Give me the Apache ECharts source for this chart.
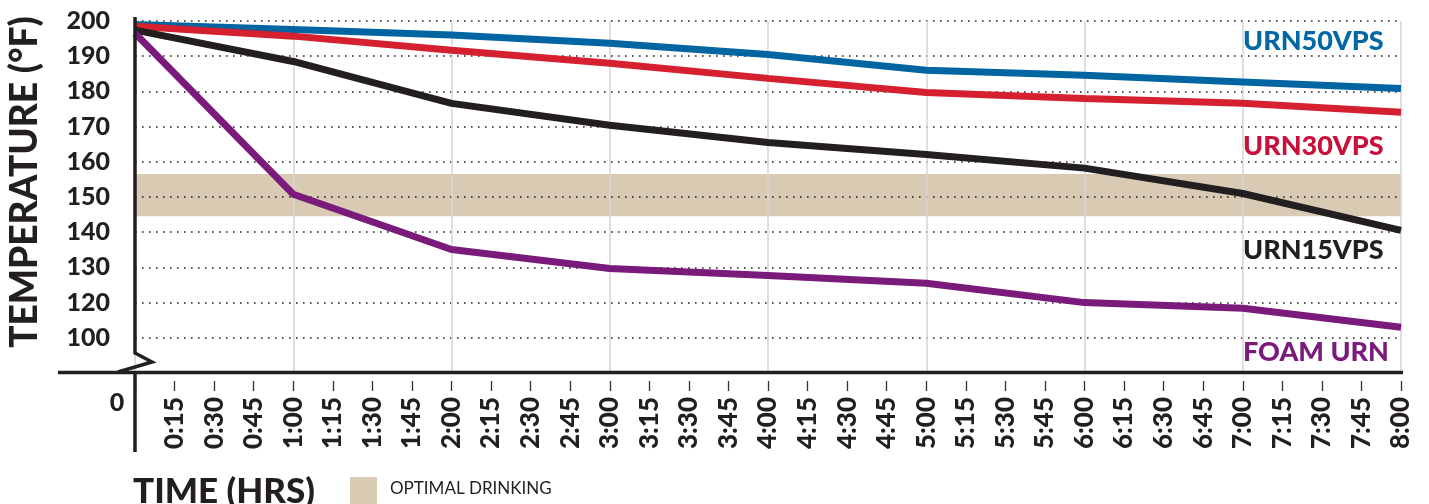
<!DOCTYPE html>
<html>
<head>
<meta charset="utf-8">
<script src="https://cdn.jsdelivr.net/npm/echarts@6/dist/echarts.min.js"></script>
<style>html,body{margin:0;padding:0;background:#fff}#c{width:1429px;height:504px}</style>
</head>
<body>
<div id="c"></div>
<script>
// ---- data ----
const hours = [0, 1, 2, 3, 4, 5, 6, 7, 8];
const urn50 = [199, 197.6, 196, 193.7, 190.5, 186, 184.6, 182.7, 180.8];
const urn30 = [198.5, 195.7, 191.7, 188, 183.7, 179.7, 178, 176.6, 174.1];
const urn15 = [197.4, 188.5, 176.6, 170.4, 165.5, 162.1, 158.2, 151, 140.5];
const foam  = [196.5, 150.8, 135.1, 129.7, 127.7, 125.5, 120, 118.4, 113];
const optimalBand = [144.5, 156.5];
const yTickValues = [110, 120, 130, 140, 150, 160, 170, 180, 190, 200];
const yTickLabels = ['100', '120', '130', '140', '150', '160', '170', '180', '190', '200'];
const xTickLabels = ['0:15','0:30','0:45','1:00','1:15','1:30','1:45','2:00','2:15','2:30','2:45','3:00',
  '3:15','3:30','3:45','4:00','4:15','4:30','4:45','5:00','5:15','5:30','5:45','6:00',
  '6:15','6:30','6:45','7:00','7:15','7:30','7:45','8:00'];
const seriesNames = ['URN50VPS', 'URN30VPS', 'URN15VPS', 'FOAM URN'];

const INK = '#231f20';
const FONT = 'Lato';
const pair = arr => hours.map((h, i) => [h, arr[i]]);

const chart = echarts.init(document.getElementById('c'));
const lineColors = ['#0065a1', '#d52030', '#231f20', '#7a1a7a'];
const labelColors = ['#0068a5', '#c8103a', '#231f20', '#7a1a7a'];
const labelY = [41, 146, 250, 352];
const allData = [urn50, urn30, urn15, foam];

const series = allData.map((d, i) => ({
  name: seriesNames[i], type: 'line', data: pair(d), showSymbol: false, z: 5,
  lineStyle: { color: lineColors[i], width: 7 }, silent: true
}));
series.unshift({
  type: 'line', data: [], z: 1, silent: true,
  markArea: { silent: true, itemStyle: { color: '#d9cab4' },
    data: [[{ yAxis: optimalBand[0] }, { yAxis: optimalBand[1] }]] }
});

chart.setOption({
  animation: false,
  grid: { left: 135, right: 28, top: 21, height: 352 },
  xAxis: [
    { type: 'value', min: 0, max: 8, interval: 0.25, offset: 8, z: 3,
      axisLine: { show: false },
      axisTick: { show: true, length: 10, lineStyle: { color: '#333', width: 1.3 } },
      splitLine: { show: false },
      axisLabel: { rotate: 90, margin: 16, color: INK, fontFamily: FONT, fontWeight: 900, fontSize: 26,
        formatter: v => { const k = Math.round(v * 4) - 1; return k >= 0 ? xTickLabels[k] : ''; } } },
    { type: 'value', min: 0, max: 8, interval: 1, z: 3,
      axisLine: { show: false }, axisTick: { show: false }, axisLabel: { show: false },
      splitLine: { show: true, lineStyle: { color: '#d4d4d4', width: 1.5 } } }
  ],
  yAxis: { type: 'value', min: 100, max: 200, interval: 10, z: 3,
    axisLine: { show: false }, axisTick: { show: false },
    splitLine: { show: true, lineStyle: { color: INK, width: 1.6, type: [1.6, 5.4] } },
    axisLabel: { margin: 25, color: INK, fontFamily: FONT, fontWeight: 900, fontSize: 25,
      formatter: v => { const k = yTickValues.indexOf(v); return k >= 0 ? yTickLabels[k] : ''; } } },
  series: series,
  graphic: [
    { type: 'polyline', z: 10, shape: { points: [[135, 17], [135, 353], [152, 362], [118, 372]] },
      style: { stroke: INK, lineWidth: 3.5, fill: null } },
    { type: 'line', z: 10, shape: { x1: 135, y1: 372, x2: 135, y2: 452 }, style: { stroke: INK, lineWidth: 3.5 } },
    { type: 'line', z: 10, shape: { x1: 58, y1: 372.5, x2: 1403, y2: 372.5 }, style: { stroke: INK, lineWidth: 3.5 } },
    { type: 'text', x: 117, y: 403, style: { text: '0', fill: INK, font: '900 25px ' + FONT, align: 'center', verticalAlign: 'middle' } },
    { type: 'text', x: 25, y: 182, rotation: Math.PI / 2, style: { text: 'TEMPERATURE (°F)', fill: INK,
      font: '900 37px ' + FONT, align: 'center', verticalAlign: 'middle' } },
    { type: 'text', x: 133, y: 492, style: { text: 'TIME (HRS)', fill: INK, font: '900 35px ' + FONT, verticalAlign: 'middle' } },
    { type: 'rect', shape: { x: 350, y: 477, width: 27, height: 27 }, style: { fill: '#d9cab4' } },
    { type: 'text', x: 390, y: 489, style: { text: 'OPTIMAL DRINKING', fill: INK, font: '17px ' + FONT, verticalAlign: 'middle' } },
    ...seriesNames.map((n, i) => ({ type: 'text', x: 1243, y: labelY[i],
      style: { text: n, fill: labelColors[i], font: '900 27px ' + FONT, verticalAlign: 'middle' } }))
  ]
});
</script>
</body>
</html>
